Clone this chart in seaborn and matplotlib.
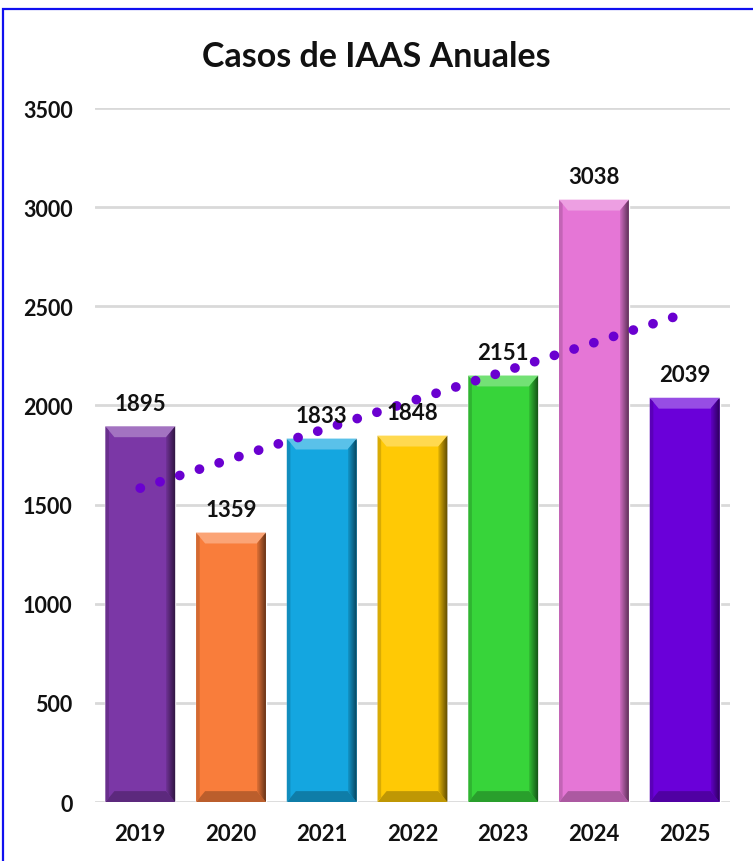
import matplotlib.pyplot as plt
import matplotlib.colors as mcolors
import numpy as np
import seaborn as sns
from matplotlib.patches import Polygon, Rectangle

# datos
years = ["2019", "2020", "2021", "2022", "2023", "2024", "2025"]
cases = [1895, 1359, 1833, 1848, 2151, 3038, 2039]
bar_colors = ["#7B37A6", "#F97D3B", "#14A6E0", "#FFC905", "#37D43A", "#E576D6", "#6A00D9"]
trend_color = "#6A00D0"
title = "Casos de IAAS Anuales"
y_ticks = [0, 500, 1000, 1500, 2000, 2500, 3000, 3500]

sns.set_theme(style="white")
plt.rcParams["font.family"] = ["Lato", "DejaVu Sans"]

fig = plt.figure(figsize=(7.53, 8.62), dpi=100)
ax = fig.add_axes([0.126, 0.0684, 0.8435, 0.8051])

sns.barplot(x=years, y=cases, hue=years, palette=bar_colors, legend=False,
            width=0.77, saturation=1, ax=ax, zorder=2)


def mix(c, other, t):
    a = np.array(mcolors.to_rgb(c))
    b = np.array(mcolors.to_rgb(other))
    return tuple(a * (1 - t) + b * t)


# efecto bisel en las barras
dx, dy = 0.1, 55
for patch, col in zip(ax.patches, bar_colors):
    x0 = patch.get_x()
    x1 = x0 + patch.get_width()
    h = patch.get_height()
    top = Polygon([(x0, h), (x1, h), (x1 - dx, h - dy), (x0 + dx, h - dy)],
                  closed=True, facecolor=mix(col, "white", 0.3), edgecolor="none", zorder=3)
    bottom = Polygon([(x0, 0), (x1, 0), (x1 - dx, dy), (x0 + dx, dy)],
                     closed=True, facecolor=mix(col, "black", 0.25), edgecolor="none", zorder=3)
    left = Polygon([(x0, 0), (x0, h), (x0 + dx * 0.4, h - dy * 0.4), (x0 + dx * 0.4, dy * 0.4)],
                   closed=True, facecolor=mix(col, "black", 0.15), edgecolor="none", zorder=3)
    ax.add_patch(top)
    ax.add_patch(bottom)
    ax.add_patch(left)
    right = Polygon([(x1, h), (x1, 0), (x1 - dx, dy), (x1 - dx, h - dy)],
                    closed=True, facecolor="none", edgecolor="none", zorder=3)
    ax.add_patch(right)
    cmap = mcolors.LinearSegmentedColormap.from_list(
        "g", [mix(col, "black", 0.1), mix(col, "black", 0.65)])
    im = ax.imshow(np.linspace(0, 1, 64).reshape(1, -1), cmap=cmap, aspect="auto",
                   extent=(x1 - dx, x1, 0, h), zorder=3, interpolation="bilinear")
    im.set_clip_path(right)
    ax.annotate(f"{h:.0f}", (x0 + patch.get_width() / 2, h), xytext=(0, 9),
                textcoords="offset points", ha="center", va="bottom",
                fontsize=16, fontweight="bold", color="#111111", zorder=5)

# línea de tendencia lineal
xs = np.arange(len(cases))
coef = np.polyfit(xs, cases, 1)
ax.plot(xs, np.polyval(coef, xs), color=trend_color, lw=7,
        linestyle=(0, (0.01, 2.12)), dash_capstyle="round", zorder=4)

ax.set_xlim(-0.5, len(years) - 0.5)
ax.set_ylim(0, 3500)
ax.set_yticks(y_ticks)
ax.yaxis.grid(True, color="#D9D9D9", lw=2)
ax.set_axisbelow(True)
for s in ax.spines.values():
    s.set_visible(False)
ax.tick_params(axis="y", length=0, pad=16, labelsize=15.5)
ax.tick_params(axis="x", length=0, pad=15, labelsize=16)
for lab in ax.get_xticklabels() + ax.get_yticklabels():
    lab.set_fontweight("bold")
    lab.set_color("#111111")

fig.text(0.5, 0.934, title, ha="center", va="center", fontsize=24.5,
         fontweight="bold", color="#111111")

# marco azul
fig.add_artist(Rectangle((3 / 753, -0.05), 1.2, 1.05 - 10 / 862, transform=fig.transFigure,
                         fill=False, edgecolor="#1010F0", lw=1.6))

fig.savefig("out.png", dpi=100)
